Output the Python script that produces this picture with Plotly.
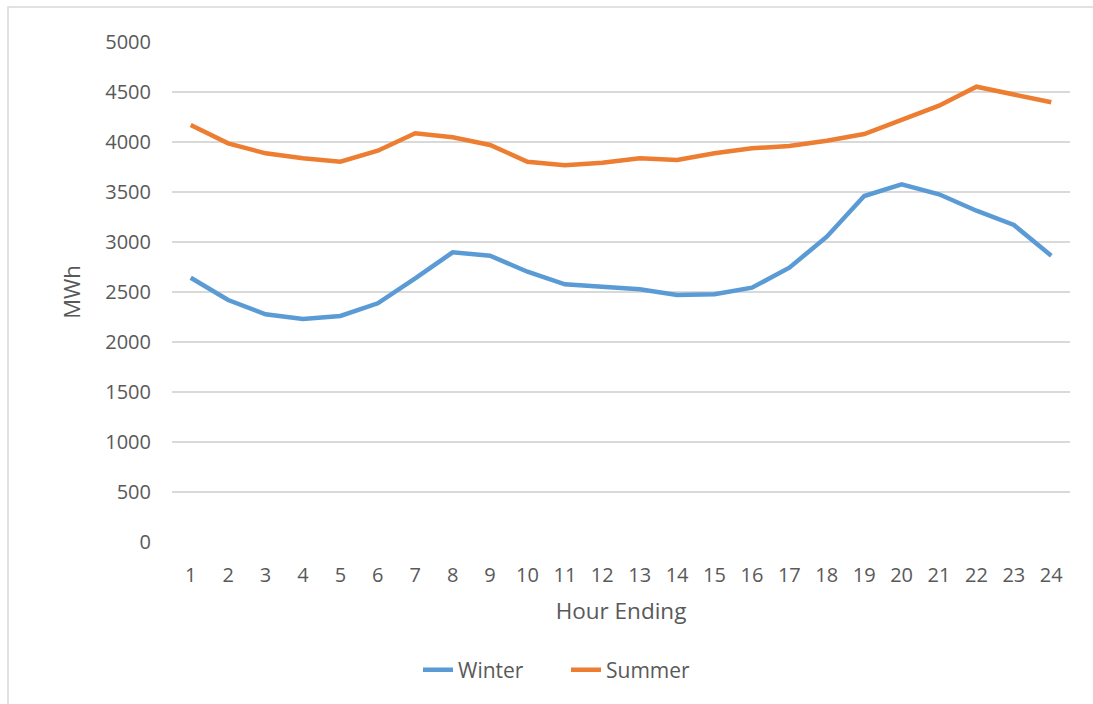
import plotly.graph_objects as go

hours = list(range(1, 25))
winter = [2643, 2420, 2277, 2230, 2260, 2387, 2637, 2897, 2863, 2703, 2577, 2547,
          2527, 2470, 2477, 2543, 2743, 3053, 3460, 3577, 3477, 3313, 3170, 2863]
summer = [4170, 3987, 3887, 3837, 3803, 3913, 4087, 4047, 3970, 3803, 3767, 3793,
          3837, 3820, 3887, 3937, 3960, 4013, 4080, 4227, 4363, 4553, 4477, 4397]
y_ticks = list(range(0, 5001, 500))

W, H = 1093, 704
L, R, T, B = 172, 1070, 42, 542
font = "Open Sans, Liberation Sans, sans-serif"
txt = "#595959"

fig = go.Figure()
fig.add_trace(go.Scatter(x=hours, y=winter, mode="lines", name="Winter",
                         line=dict(color="#5B9BD5", width=4.5)))
fig.add_trace(go.Scatter(x=hours, y=summer, mode="lines", name="Summer",
                         line=dict(color="#ED7D31", width=4.5)))

pw, ph = R - L, B - T
def px(x):
    return (x - L) / pw
def py(y):
    return (B - y) / ph

fig.update_layout(
    width=W, height=H,
    margin=dict(l=L, r=W - R, t=T, b=H - B),
    paper_bgcolor="white", plot_bgcolor="white",
    font=dict(family=font, color=txt, size=20),
    xaxis=dict(range=[0.5, 24.5], tickmode="array", tickvals=hours,
               ticktext=[str(h) for h in hours], showgrid=False, zeroline=False,
               showline=False, ticks="", ticklabelstandoff=19,
               tickfont=dict(size=20, color=txt),
               title=dict(text="Hour Ending", font=dict(size=22.5, color=txt), standoff=16)),
    yaxis=dict(range=[0, 5000], tickmode="array", tickvals=y_ticks,
               showgrid=True, gridcolor="#D9D9D9", gridwidth=1.5, zeroline=False,
               showline=False, ticks="", ticklabelstandoff=20,
               tickfont=dict(size=20, color=txt),
               title=dict(text="MWh", font=dict(size=22, color=txt), standoff=18)),
    legend=dict(orientation="h", x=px(418), xanchor="left", y=py(670), yanchor="middle",
                font=dict(size=21, color=txt), traceorder="normal",
                entrywidth=103, entrywidthmode="pixels"),
    showlegend=True,
    shapes=[dict(type="rect", xref="paper", yref="paper",
                 x0=px(8), x1=px(1110), y0=py(720), y1=py(7),
                 line=dict(color="#D9D9D9", width=1.5), fillcolor="rgba(0,0,0,0)",
                 layer="below")],
)

fig.write_html("out.html", config={"displayModeBar": False},
               post_script="document.body.style.margin='0';document.body.style.padding='0';document.body.style.overflow='hidden';")
